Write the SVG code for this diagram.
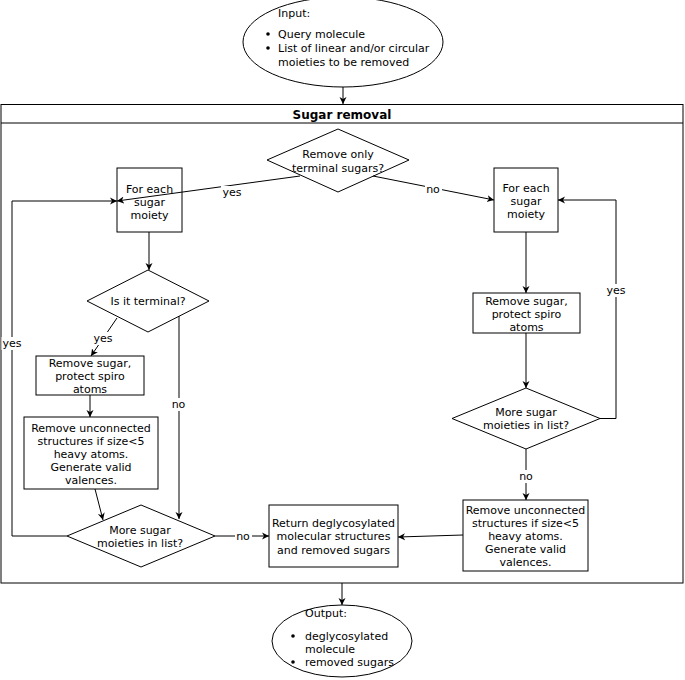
<svg xmlns="http://www.w3.org/2000/svg" width="685" height="680" viewBox="0 0 685 680">
<defs>
<marker id="arr" markerUnits="userSpaceOnUse" markerWidth="8" markerHeight="8" refX="7" refY="4" orient="auto">
<path d="M0,0.5 L7,4 L0,7.5 L2,4 z" fill="#000"/>
</marker>
</defs>
<style>
.s{fill:#fff;stroke:#000;stroke-width:1}
.t{font-family:"DejaVu Sans",sans-serif;font-size:11px;fill:#000;text-anchor:middle;dominant-baseline:central}
.l{text-anchor:start}
.b{font-weight:bold;font-size:12px}
.c{fill:none;stroke:#000;stroke-width:1}
.a{marker-end:url(#arr)}
.bg{fill:#fff;stroke:none}
</style>
<rect x="0" y="0" width="685" height="680" fill="#fff"/>

<g id="container">
<rect class="s" x="1" y="104.5" width="682" height="478.5"/>
<line class="c" x1="1" y1="123" x2="683" y2="123"/>
<text class="t b" x="342" y="114.5">Sugar removal</text>
</g>

<g id="input">
<ellipse class="s" cx="343" cy="42" rx="100" ry="45"/>
<text class="t l" x="278" y="13">Input:</text>
<circle cx="268" cy="34" r="1.8"/>
<text class="t l" x="278" y="34">Query molecule</text>
<circle cx="268" cy="48" r="1.8"/>
<text class="t l" x="278" y="48">List of linear and/or circular</text>
<text class="t l" x="278" y="62">moieties to be removed</text>
</g>

<g id="q_terminal_only">
<polygon class="s" points="338,129 409,160 338,192 267,160"/>
<text class="t" x="338" y="154">Remove only</text>
<text class="t" x="338" y="168">terminal sugars?</text>
</g>

<g id="for_each_left">
<rect class="s" x="117" y="168" width="65" height="64"/>
<text class="t" x="149.5" y="189">For each</text>
<text class="t" x="149.5" y="202">sugar</text>
<text class="t" x="149.5" y="215">moiety</text>
</g>

<g id="for_each_right">
<rect class="s" x="494" y="168" width="64" height="64"/>
<text class="t" x="526" y="188">For each</text>
<text class="t" x="526" y="201">sugar</text>
<text class="t" x="526" y="214">moiety</text>
</g>

<g id="is_terminal">
<polygon class="s" points="148,270 209,301 148,332 87,301"/>
<text class="t" x="148" y="301.5">Is it terminal?</text>
</g>

<g id="remove_sugar_left">
<rect class="s" x="36" y="356" width="108" height="39"/>
<text class="t" x="90" y="363">Remove sugar,</text>
<text class="t" x="90" y="376">protect spiro</text>
<text class="t" x="90" y="389">atoms</text>
</g>

<g id="remove_unconnected_left">
<rect class="s" x="24" y="417" width="134" height="72"/>
<text class="t" x="91" y="428">Remove unconnected</text>
<text class="t" x="91" y="441">structures if size&lt;5</text>
<text class="t" x="91" y="454">heavy atoms.</text>
<text class="t" x="91" y="467">Generate valid</text>
<text class="t" x="91" y="480">valences.</text>
</g>

<g id="more_left">
<polygon class="s" points="141,505 215,536 141,567 67,536"/>
<text class="t" x="140" y="530">More sugar</text>
<text class="t" x="140" y="543">moieties in list?</text>
</g>

<g id="return">
<rect class="s" x="269" y="505" width="129" height="62"/>
<text class="t" x="333.5" y="523">Return deglycosylated</text>
<text class="t" x="333.5" y="536.5">molecular structures</text>
<text class="t" x="333.5" y="550">and removed sugars</text>
</g>

<g id="remove_sugar_right">
<rect class="s" x="473" y="293" width="107" height="40"/>
<text class="t" x="526.5" y="301">Remove sugar,</text>
<text class="t" x="526.5" y="314">protect spiro</text>
<text class="t" x="526.5" y="327">atoms</text>
</g>

<g id="more_right">
<polygon class="s" points="526,388 600,418.5 526,449 452,418.5"/>
<text class="t" x="526" y="412.5">More sugar</text>
<text class="t" x="526" y="425.5">moieties in list?</text>
</g>

<g id="remove_unconnected_right">
<rect class="s" x="463" y="500" width="125" height="71"/>
<text class="t" x="525.5" y="510">Remove unconnected</text>
<text class="t" x="525.5" y="523">structures if size&lt;5</text>
<text class="t" x="525.5" y="536">heavy atoms.</text>
<text class="t" x="525.5" y="549">Generate valid</text>
<text class="t" x="525.5" y="562">valences.</text>
</g>

<g id="output">
<ellipse class="s" cx="342" cy="641" rx="70" ry="36"/>
<text class="t l" x="305" y="613">Output:</text>
<circle cx="293" cy="636" r="1.8"/>
<text class="t l" x="305" y="636">deglycosylated</text>
<text class="t l" x="305" y="649">molecule</text>
<circle cx="293" cy="662" r="1.8"/>
<text class="t l" x="305" y="662">removed sugars</text>
</g>

<g id="connectors">
<path class="c a" d="M343,87 L343,104"/>
<path class="c a" d="M300,176 L117,201"/>
<path class="c a" d="M373,176 L494,200"/>
<path class="c a" d="M149,232 L149,270"/>
<path class="c a" d="M117,318 L91,356"/>
<path class="c a" d="M90,395 L90,417"/>
<path class="c a" d="M95,489 L103,520"/>
<path class="c a" d="M179,316 L179,519"/>
<path class="c a" d="M67,536 L12,536 L12,201 L117,201"/>
<path class="c a" d="M215,536 L269,536"/>
<path class="c a" d="M526,232 L526,293"/>
<path class="c a" d="M526,333 L526,388"/>
<path class="c a" d="M600,418.5 L616,418.5 L616,200 L558,200"/>
<path class="c a" d="M526,449 L526,500"/>
<path class="c a" d="M463,535 L398,537"/>
<path class="c a" d="M342,583 L342,605"/>
<rect class="bg" x="221" y="186" width="23" height="13"/>
<text class="t" x="232" y="192.5">yes</text>
<rect class="bg" x="425" y="183" width="17" height="13"/>
<text class="t" x="433" y="189.5">no</text>
<rect class="bg" x="92" y="332" width="23" height="13"/>
<text class="t" x="103" y="338">yes</text>
<rect class="bg" x="170" y="398" width="17" height="13"/>
<text class="t" x="178.5" y="404">no</text>
<rect class="bg" x="1.5" y="337" width="22" height="13"/>
<text class="t" x="12" y="343">yes</text>
<rect class="bg" x="235" y="530" width="17" height="13"/>
<text class="t" x="243" y="536">no</text>
<rect class="bg" x="605" y="284" width="23" height="13"/>
<text class="t" x="616" y="290">yes</text>
<rect class="bg" x="518" y="470" width="17" height="13"/>
<text class="t" x="526" y="476">no</text>
</g>
</svg>
